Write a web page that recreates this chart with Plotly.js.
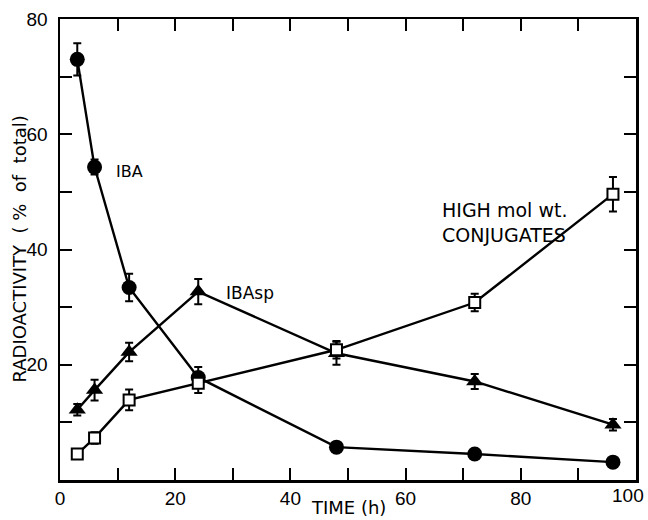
<!DOCTYPE html>
<html>
<head>
<meta charset="utf-8">
<script src="https://cdn.plot.ly/plotly-3.0.1.min.js"></script>
<style>html,body{margin:0;padding:0;background:#fff;}#chart{width:648px;height:520px;}</style>
</head>
<body>
<div id="chart"></div>
<script>
const time = [3, 6, 12, 24, 48, 72, 96];
const ibaValues = [73, 54.3, 33.4, 17.8, 5.7, 4.5, 3.1];
const ibaErrors = [2.8, 1.3, 2.4, 1.8, 0, 0, 0];
const ibaspValues = [12.2, 15.6, 22.2, 32.7, 22.0, 17.1, 9.6];
const ibaspErrors = [1.0, 1.8, 1.6, 2.2, 2.0, 1.3, 1.0];
const conjValues = [4.5, 7.3, 13.9, 16.8, 22.6, 30.8, 49.6];
const conjErrors = [0, 1.0, 1.8, 1.7, 1.5, 1.5, 3.0];
const tickValues = [0, 10, 20, 30, 40, 50, 60, 70, 80, 90, 100];
const xTickText = ['0', '', '20', '', '40', '', '60', '', '80', '', ''];
const lastXTick = '100';
const yTickValues = [0, 10, 20, 30, 40, 50, 60, 70, 80];
const yTickText = ['', '', '20', '', '40', '', '60', '', '80'];

const FONT = 'DejaVu Sans, Arial, sans-serif';
const TICKFONT = 'Liberation Sans, Arial, sans-serif';
const err = (a) => ({type: 'data', array: a, visible: true, color: '#000', thickness: 2, width: 4});

const traces = [
  {x: time, y: ibaValues, error_y: err(ibaErrors), mode: 'lines+markers', type: 'scatter',
   line: {color: '#000', width: 2.4}, marker: {symbol: 'circle', size: 15, color: '#000'}},
  {x: time, y: ibaspValues, error_y: err(ibaspErrors), mode: 'lines+markers', type: 'scatter',
   line: {color: '#000', width: 2.4}, marker: {symbol: 'triangle-up', size: 15, color: '#000'}},
  {x: time, y: conjValues, error_y: err(conjErrors), mode: 'lines+markers', type: 'scatter',
   line: {color: '#000', width: 2.4}, marker: {symbol: 'square', size: 11, color: '#fff', line: {color: '#000', width: 2}}}
];

const axisCommon = {
  showgrid: false, zeroline: false, showline: true, linecolor: '#000', linewidth: 2.5,
  ticks: 'inside', ticklen: 12, tickwidth: 2, tickcolor: '#000', mirror: 'ticks',
  tickfont: {family: TICKFONT, size: 19, color: '#000'}, tickmode: 'array'
};

const layout = {
  width: 648, height: 520,
  margin: {l: 60, r: 12, t: 19, b: 40},
  paper_bgcolor: '#fff', plot_bgcolor: '#fff',
  showlegend: false,
  xaxis: Object.assign({}, axisCommon, {range: [0, 100], tickvals: tickValues, ticktext: xTickText}),
  yaxis: Object.assign({}, axisCommon, {range: [0, 80], tickvals: yTickValues, ticktext: yTickText, ticklabelstandoff: 6}),
  annotations: [
    {text: lastXTick, x: 100, y: 0, xref: 'x', yref: 'y', showarrow: false, xanchor: 'right', yanchor: 'top',
     xshift: 10, yshift: -3, font: {family: TICKFONT, size: 19, color: '#000'}},
    {text: 'IBA', x: 9.3, y: 53.6, xref: 'x', yref: 'y', showarrow: false, xanchor: 'left',
     font: {family: FONT, size: 16, color: '#000'}},
    {text: 'IBAsp', x: 28.5, y: 32.4, xref: 'x', yref: 'y', showarrow: false, xanchor: 'left',
     font: {family: FONT, size: 17, color: '#000'}},
    {text: 'HIGH mol wt.<br>CONJUGATES', x: 66, y: 44.7, xref: 'x', yref: 'y', showarrow: false, xanchor: 'left', align: 'left',
     font: {family: FONT, size: 19, color: '#000'}},
    {text: 'TIME (h)', x: 0.5, y: 0, xref: 'paper', yref: 'paper', showarrow: false, yanchor: 'middle', yshift: -27,
     font: {family: FONT, size: 18, color: '#000'}},
    {text: 'RADIOACTIVITY  ( %  of  total)', x: 0, y: 0.5, xref: 'paper', yref: 'paper', showarrow: false,
     xanchor: 'center', yanchor: 'middle', xshift: -41, textangle: -90, font: {family: FONT, size: 18, color: '#000'}}
  ]
};

Plotly.newPlot('chart', traces, layout, {displayModeBar: false, staticPlot: true});
</script>
</body>
</html>
